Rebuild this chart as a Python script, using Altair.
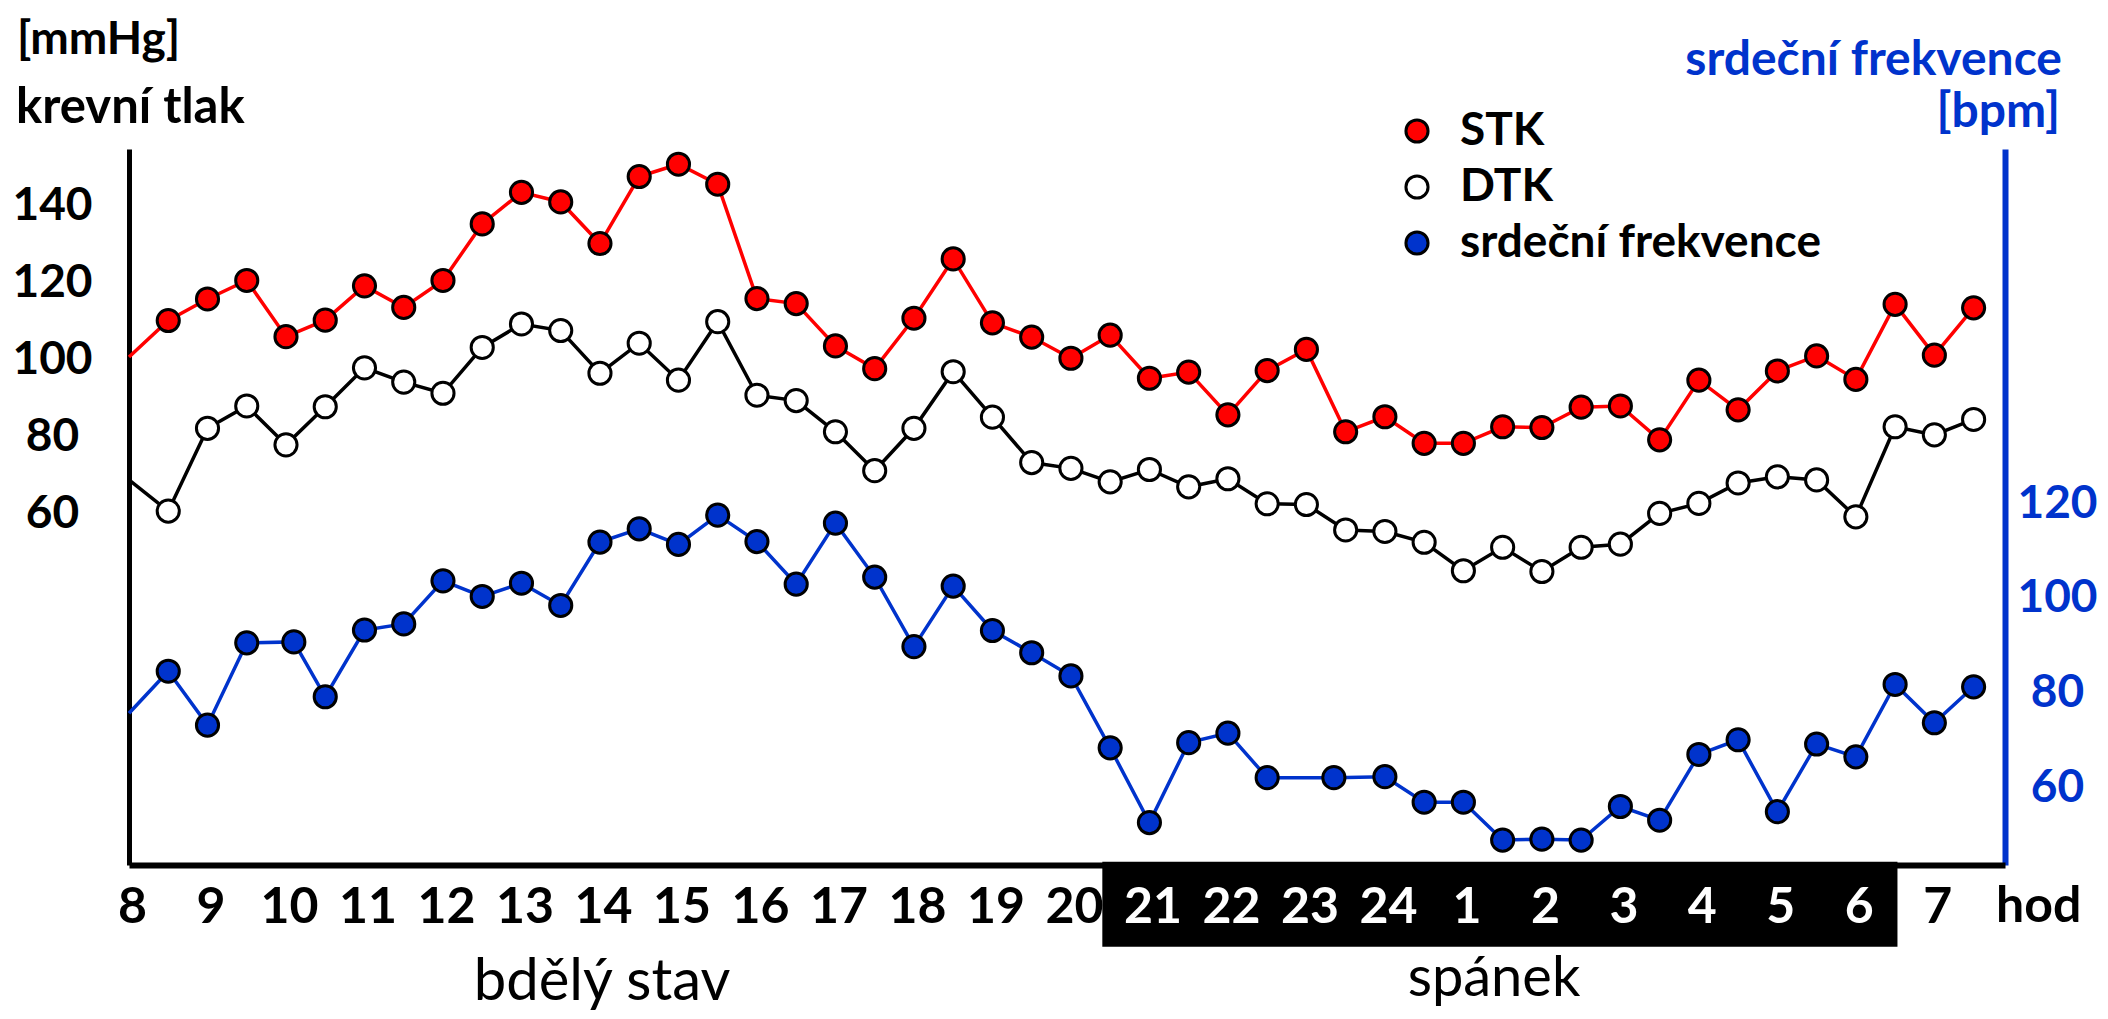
import altair as alt
import pandas as pd

# ---------------- data ----------------
hours = [8, 8.5, 9, 9.5, 10, 10.5, 11, 11.5, 12, 12.5, 13, 13.5, 14, 14.5, 15, 15.5,
         16, 16.5, 17, 17.5, 18, 18.5, 19, 19.5, 20, 20.5, 21, 21.5, 22, 22.5, 23, 23.5,
         24, 24.5, 25, 25.5, 26, 26.5, 27, 27.5, 28, 28.5, 29, 29.5, 30, 30.5, 31, 31.5]

stk = [100.5, 110, 115.6, 120.4, 105.8, 110.1, 119, 113.4, 120.4, 135.1, 143.3, 140.8,
       130, 147.4, 150.6, 145.4, 115.7, 114.4, 103.4, 97.5, 110.6, 126, 109.4, 105.7,
       100.2, 106.2, 95, 96.6, 85.5, 97, 102.5, 81.1, 85, 78.1, 78.1, 82.4,
       82.2, 87.5, 87.8, 79, 94.5, 86.8, 96.9, 100.8, 94.7, 114.2, 101, 113.3]

dtk = [68.6, 60.5, 82, 87.8, 77.7, 87.6, 97.7, 94, 91.1, 103, 109.1, 107.4,
       96.3, 104.1, 94.5, 109.7, 90.6, 89.2, 81.1, 71, 82, 96.7, 84.9, 73.1,
       71.6, 68.1, 71.3, 66.8, 68.9, 62.4, 62.2, 55.6, 55.2, 52.4, 45, 51.1,
       44.8, 51.1, 51.9, 59.9, 62.5, 67.8, 69.4, 68.6, 59, 82.4, 80.3, 84.3]

hr_hours = [8, 8.5, 9, 9.5, 10.1, 10.5, 11, 11.5, 12, 12.5, 13, 13.5, 14, 14.5, 15, 15.5,
            16, 16.5, 17, 17.5, 18, 18.5, 19, 19.5, 20, 20.5, 21, 21.5, 22, 22.5, 23.35,
            24, 24.5, 25, 25.5, 26, 26.5, 27, 27.5, 28, 28.5, 29, 29.5, 30, 30.5, 31, 31.5]

hr = [75.6, 84.5, 73.1, 90.5, 90.7, 79.1, 93.2, 94.5, 103.6, 100.3, 103.1, 98.4,
      111.8, 114.6, 111.3, 117.5, 111.9, 102.9, 115.8, 104.4, 89.7, 102.5, 93.1, 88.4,
      83.5, 68.3, 52.5, 69.4, 71.4, 62, 62, 62.2, 56.8, 56.8, 48.8, 49,
      48.8, 55.9, 53, 66.9, 70, 54.8, 69.1, 66.4, 81.7, 73.6, 81.2]

x_ticks = [8, 9, 10, 11, 12, 13, 14, 15, 16, 17, 18, 19, 20, 21, 22, 23, 24,
           25, 26, 27, 28, 29, 30, 31]
left_ticks = [60, 80, 100, 120, 140]
right_ticks = [60, 80, 100, 120]
series_names = ["STK", "DTK", "srdeční frekvence"]
sleep_span = [20.4, 30.53]

# ---------------- styling ----------------
RED = "#FF0000"
BLUE = "#0033CC"
FONT = "Lato"
W, H = 1876, 716

bp = pd.DataFrame({
    "hour": hours + hours,
    "value": stk + dtk,
    "series": ["STK"] * len(stk) + ["DTK"] * len(dtk),
})
hrdf = pd.DataFrame({"hour": hr_hours, "value": hr, "series": "srdeční frekvence"})

x_axis = alt.Axis(
    values=x_ticks,
    labelExpr="datum.value > 24 ? datum.value - 24 : datum.value",
    title=None, ticks=False, tickSize=0, grid=False,
    domainColor="black", domainWidth=6,
    labelFont=FONT, labelFontWeight="bold", labelFontSize=50,
    labelColor={"condition": {"test": "datum.value >= 21 && datum.value <= 30", "value": "white"},
                "value": "black"},
    labelBaseline="alphabetic", labelPadding=57, labelOffset=3, labelFlush=False,
    labelOverlap=False, zindex=1,
)
x_enc = alt.X("hour:Q", scale=alt.Scale(domain=[8, 31.9], nice=False, zero=False), axis=x_axis)

fill_enc = alt.Fill(
    "series:N",
    scale=alt.Scale(domain=series_names, range=[RED, "white", BLUE]),
    legend=alt.Legend(
        orient="none", legendX=1265, legendY=-41, title=None, padding=0,
        labelFont=FONT, labelFontWeight="bold", labelFontSize=46, labelColor="black",
        symbolType="circle", symbolSize=490, symbolStrokeColor="black",
        symbolStrokeWidth=3, symbolOpacity=1, rowPadding=10, labelOffset=20,
        labelLimit=600,
    ),
)

y_left = alt.Y(
    "value:Q",
    scale=alt.Scale(domain=[-31.43, 154.55], nice=False, zero=False),
    axis=alt.Axis(values=left_ticks, title=None, ticks=False, tickSize=0, grid=False,
                  domainColor="black", domainWidth=5, labelFont=FONT,
                  labelFontWeight="bold", labelFontSize=46, labelColor="black",
                  labelAlign="center", labelBaseline="middle", labelPadding=77,
                  orient="left"),
)
y_right = alt.Y(
    "value:Q",
    scale=alt.Scale(domain=[43.53, 194.9], nice=False, zero=False),
    axis=alt.Axis(values=right_ticks, title=None, ticks=False, tickSize=0, grid=False,
                  domainColor=BLUE, domainWidth=6, labelFont=FONT,
                  labelFontWeight="bold", labelFontSize=46, labelColor=BLUE,
                  labelAlign="center", labelBaseline="middle", labelPadding=52,
                  orient="right"),
)

bp_lines = alt.Chart(bp).mark_line(strokeWidth=3.5).encode(
    x=x_enc, y=y_left,
    stroke=alt.Stroke("series:N", scale=alt.Scale(domain=["STK", "DTK"], range=[RED, "black"]),
                      legend=None),
    detail="series:N",
)
bp_points = alt.Chart(bp).mark_point(
    shape="circle", filled=True, size=490, stroke="black", strokeWidth=3, opacity=1
).encode(x=x_enc, y=y_left, fill=fill_enc).transform_filter("datum.hour > 8")

hr_line = alt.Chart(hrdf).mark_line(strokeWidth=3.5, color=BLUE).encode(x=x_enc, y=y_right)
hr_points = alt.Chart(hrdf).mark_point(
    shape="circle", filled=True, size=490, stroke="black", strokeWidth=3, opacity=1
).encode(x=x_enc, y=y_right, fill=fill_enc).transform_filter("datum.hour > 8")

left_layer = alt.layer(bp_lines, bp_points)
right_layer = alt.layer(hr_line, hr_points)

box = alt.Chart(pd.DataFrame({"hour": [sleep_span[0]], "hour2": [sleep_span[1]]})).mark_rect(
    color="black"
).encode(x=x_enc, x2="hour2:Q", y=alt.value(712.7), y2=alt.value(797.7))


def label(text, x, y, size, color="black", weight="bold", align="left"):
    return alt.Chart(pd.DataFrame({"t": [text]})).mark_text(
        align=align, baseline="alphabetic", font=FONT, fontSize=size,
        fontWeight=weight, color=color,
    ).encode(x=alt.value(x), y=alt.value(y), text="t:N")


texts = [
    label("[mmHg]", -112, -95, 46),
    label("krevní tlak", -113, -26, 49),
    label("srdeční frekvence", 1933, -74, 48, color=BLUE, align="right"),
    label("[bpm]", 1931, -22, 48, color=BLUE, align="right"),
    label("hod", 1867, 773, 50),
    label("bdělý stav", 473, 851, 58, weight="normal", align="center"),
    label("spánek", 1365, 847, 56, weight="normal", align="center"),
]

chart = alt.layer(box, left_layer, right_layer, *texts).resolve_scale(
    y="independent"
).properties(
    width=W, height=H,
    autosize=alt.AutoSizeParams(type="none"),
    padding={"left": 121, "top": 141, "right": 95, "bottom": 146},
    background="white",
).configure_view(stroke=None)

chart.save("out.html", embed_options={"renderer": "svg", "actions": False})
